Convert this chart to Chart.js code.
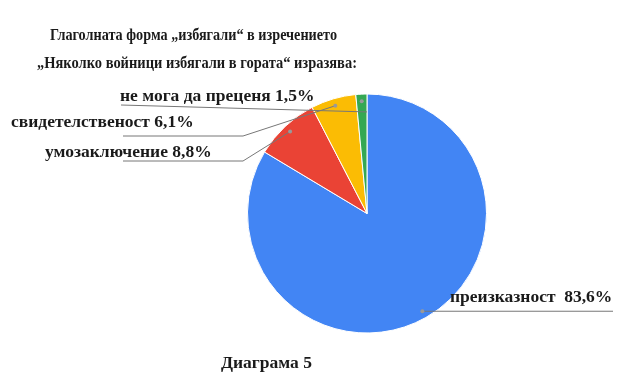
<!DOCTYPE html>
<html>
<head>
<meta charset="utf-8">
<script src="https://cdn.jsdelivr.net/npm/chart.js@4/dist/chart.umd.min.js"></script>
<style>
  html, body { margin: 0; padding: 0; background: #fff; }
  #wrap { position: relative; width: 637px; height: 379px; }
</style>
</head>
<body>
<div id="wrap"><canvas id="c" width="637" height="379"></canvas></div>
<script>
// ---- data ----
const categories = ["преизказност", "умозаключение", "свидетелственост", "не мога да преценя"];
const values = [83.6, 8.8, 6.1, 1.5];
const valueLabels = ["83,6%", "8,8%", "6,1%", "1,5%"];
const titleLines = ["Глаголната форма „избягали“ в изречението", "„Няколко войници избягали в гората“ изразява:"];
const caption = "Диаграма 5";
const colors = ["#4285F4", "#EA4335", "#FBBC04", "#34A853"];

// ---- layout of label text (positions only) ----
const FONT = "bold 17.5px 'Liberation Serif', 'Times New Roman', serif";
const labelLayout = [
  // blue
  { text: categories[0] + "  " + valueLabels[0], tx: 450, ty: 302, tw: 163, mode: "horiz", lineEndX: 613 },
  // red
  { text: categories[1] + " " + valueLabels[1], tx: 45, ty: 157, tw: 170, mode: "elbow", elbowX: 243, elbowY: 161, lineEndX: 123 },
  // yellow
  { text: categories[2] + " " + valueLabels[2], tx: 11, ty: 127, tw: 184, mode: "elbow", elbowX: 243, elbowY: 136, lineEndX: 123 },
  // green
  { text: categories[3] + " " + valueLabels[3], tx: 120, ty: 101, tw: 195, mode: "edge", lineStartX: 121, lineStartY: 105 }
];

const textPlugin = {
  id: "textPlugin",
  afterDraw(chart) {
    const ctx = chart.ctx;
    const meta = chart.getDatasetMeta(0);
    ctx.save();
    ctx.font = FONT;
    ctx.fillStyle = "#1a1a1a";
    ctx.textBaseline = "alphabetic";
    ctx.textAlign = "left";
    // titles
    ctx.fillText(titleLines[0], 50, 40, 287);
    ctx.fillText(titleLines[1], 37, 68, 320);
    ctx.fillText(caption, 221, 368, 92);

    meta.data.forEach((arc, i) => {
      const L = labelLayout[i];
      const p = arc.getProps(["x", "y", "startAngle", "endAngle", "outerRadius"], true);
      const mid = (p.startAngle + p.endAngle) / 2;
      const dx = p.x + Math.cos(mid) * p.outerRadius * 0.94;
      const dy = p.y + Math.sin(mid) * p.outerRadius * 0.94;
      ctx.strokeStyle = "#777";
      ctx.lineWidth = 1;
      ctx.beginPath();
      if (L.mode === "horiz") {
        ctx.moveTo(dx, dy);
        ctx.lineTo(L.lineEndX, dy);
      } else if (L.mode === "elbow") {
        ctx.moveTo(dx, dy);
        ctx.lineTo(L.elbowX, L.elbowY);
        ctx.lineTo(L.lineEndX, L.elbowY);
      } else {
        const ex = p.x + Math.cos(p.endAngle) * p.outerRadius * 0.85;
        const ey = p.y + Math.sin(p.endAngle) * p.outerRadius * 0.85;
        ctx.moveTo(L.lineStartX, L.lineStartY);
        ctx.lineTo(ex, ey);
      }
      ctx.stroke();
      ctx.fillStyle = "#999";
      ctx.beginPath();
      ctx.arc(dx, dy, 2, 0, Math.PI * 2);
      ctx.fill();
      ctx.fillStyle = "#1a1a1a";
      ctx.fillText(L.text, L.tx, L.ty, L.tw);
    });
    ctx.restore();
  }
};

new Chart(document.getElementById("c"), {
  type: "pie",
  data: {
    labels: categories,
    datasets: [{
      data: values,
      backgroundColor: colors,
      borderColor: "#ffffff",
      borderWidth: 1
    }]
  },
  options: {
    responsive: false,
    animation: false,
    layout: { padding: { top: 93, bottom: 45, left: 247, right: 150 } },
    plugins: { legend: { display: false }, tooltip: { enabled: false }, title: { display: false } }
  },
  plugins: [textPlugin]
});
</script>
</body>
</html>
